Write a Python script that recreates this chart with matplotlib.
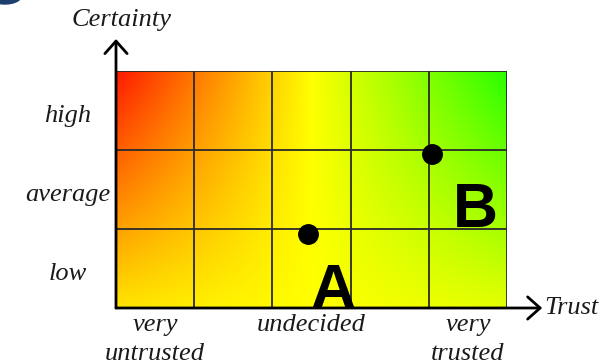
import numpy as np
import matplotlib
matplotlib.use("Agg")
import matplotlib.pyplot as plt
from matplotlib.patches import Ellipse
from matplotlib.transforms import offset_copy

# ---- data ----
trust_labels = ["very\nuntrusted", "", "undecided", "", "very\ntrusted"]
certainty_labels = ["low", "average", "high"]
point_names = ["A", "B"]
point_trust = [2.45, 4.04]        # in column units (0..5)
point_certainty = [0.94, 1.95]    # in row units (0..3)
label_trust = [2.78, 4.60]
label_certainty = [0.0, 1.03]

# gradient anchor colours (left, middle, right)
top_colors = np.array([(255, 25, 0), (255, 255, 0), (40, 255, 0)]) / 255.0
bottom_colors = np.array([(255, 228, 0), (255, 255, 0), (228, 255, 0)]) / 255.0

W, H = 613, 364
dpi = 100
fig = plt.figure(figsize=(W / dpi, H / dpi), dpi=dpi)

L, R, T, B = 116, 507, 71, 308
ax = fig.add_axes([L / W, (H - B) / H, (R - L) / W, (B - T) / H])

ncol, nrow = len(trust_labels), len(certainty_labels)

# gradient image
nx, ny = 400, 200
xs = np.linspace(0, 1, nx)
anchors = [0, 0.5, 1]
top = np.stack([np.interp(xs, anchors, top_colors[:, c]) for c in range(3)], axis=-1)
bot = np.stack([np.interp(xs, anchors, bottom_colors[:, c]) for c in range(3)], axis=-1)
ys = np.linspace(0, 1, ny)[:, None, None]
grad = bot[None, :, :] * (1 - ys) + top[None, :, :] * ys
ax.imshow(grad, extent=(0, ncol, 0, nrow), origin="lower", aspect="auto",
          interpolation="bilinear", zorder=0)

ax.set_xlim(0, ncol)
ax.set_ylim(0, nrow)

grid_c = "#2a2a2a"
for i in range(1, ncol + 1):
    ax.axvline(i, color=grid_c, lw=1.3, zorder=2)
for j in range(1, nrow + 1):
    ax.axhline(j, color=grid_c, lw=1.3, zorder=2)

for s in ax.spines.values():
    s.set_visible(False)

serif = "Liberation Serif"
tfs = 19
tcol = "#1a1a1a"

xt = [i + 0.5 for i, t in enumerate(trust_labels) if t]
ax.set_xticks(xt, [t for t in trust_labels if t])
ax.set_yticks([])
ax.tick_params(length=0)
ax.tick_params(axis="x", pad=4)
for lab in ax.get_xticklabels():
    lab.set_fontfamily(serif)
    lab.set_fontstyle("italic")
    lab.set_fontsize(tfs)
    lab.set_linespacing(1.42)
    lab.set_color(tcol)

# certainty labels, centred left of the axis
ylab_tr = offset_copy(ax.get_yaxis_transform(), fig=fig, x=-48, y=-3, units="dots")
for j, lab in enumerate(certainty_labels):
    ax.text(0, j + 0.5, lab, transform=ylab_tr, ha="center", va="center_baseline",
            fontfamily=serif, fontstyle="italic", fontsize=tfs, color=tcol)

# axes arrows
arrow_kw = dict(arrowstyle="->,head_length=0.45,head_width=0.4", lw=2.0,
                color="black", mutation_scale=20, shrinkA=0, shrinkB=0)
ax.annotate("", xy=(1.09, 0), xytext=(0, 0), xycoords="axes fraction",
            arrowprops=arrow_kw, annotation_clip=False)
ax.annotate("", xy=(0, 1.135), xytext=(0, 0), xycoords="axes fraction",
            arrowprops=arrow_kw, annotation_clip=False)

ax.text(1.095, 0, "Trust", transform=ax.transAxes, ha="left", va="center",
        fontfamily=serif, fontstyle="italic", fontsize=tfs, color=tcol)
ax.text(0.013, 1.216, "Certainty", transform=ax.transAxes, ha="center", va="center",
        fontfamily=serif, fontstyle="italic", fontsize=tfs, color=tcol)

# points
ax.plot(point_trust, point_certainty, "o", color="black", ms=14, zorder=5, clip_on=False)
for name, x, y in zip(point_names, label_trust, label_certainty):
    ax.text(x, y, name, ha="center", va="baseline", fontfamily="Liberation Sans",
            fontweight="bold", fontsize=45, color="black", zorder=6)

# partial dark-blue shape at top-left corner
fig.patches.append(Ellipse((5 / W, 1 + 5 / H), 34 / W, 18 / H, transform=fig.transFigure,
                           color="#1c3f6e", zorder=10))

fig.savefig("out.png", dpi=dpi)
